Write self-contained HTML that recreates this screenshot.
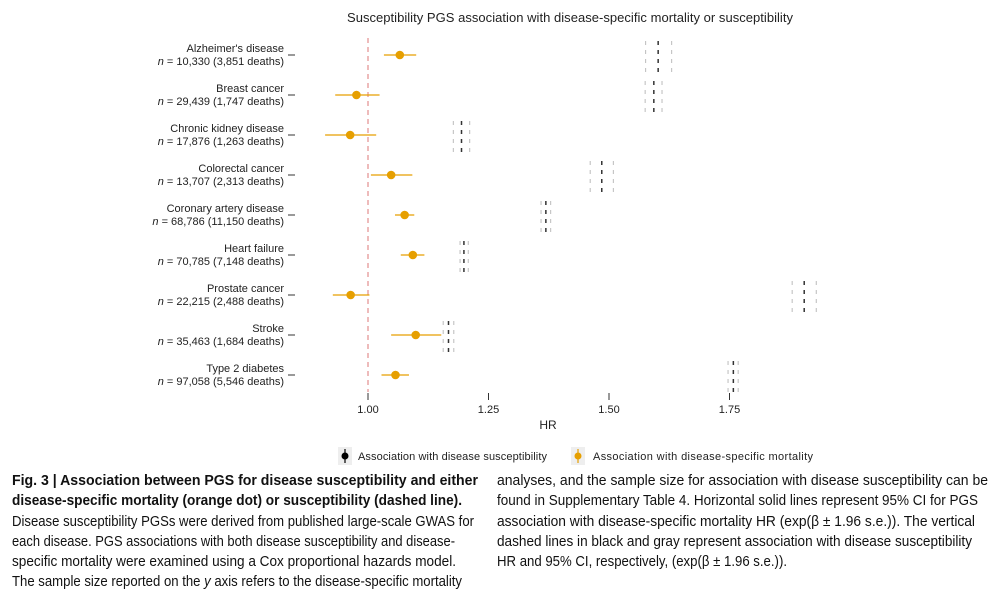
<!DOCTYPE html>
<html><head><meta charset="utf-8"><style>
body{margin:0;background:#fff;}
svg{display:block;font-family:"Liberation Sans",sans-serif;}
</style></head><body>
<svg width="1000" height="592" viewBox="0 0 1000 592">
<text x="570" y="22" text-anchor="middle" font-size="13" fill="#222" textLength="446">Susceptibility PGS association with disease-specific mortality or susceptibility</text>
<g id="plot"></g>
<text x="548" y="429" text-anchor="middle" font-size="12" fill="#222">HR</text>
<g>
<g>
<rect x="338" y="447" width="14" height="18" fill="#eee"/>
<line x1="345" y1="449" x2="345" y2="463" stroke="#000" stroke-width="1.2"/>
<circle cx="345" cy="456" r="3.5" fill="#000"/>
<text x="358" y="460" font-size="11" fill="#222" textLength="189">Association with disease susceptibility</text>
</g>
<g>
<rect x="571" y="447" width="14" height="18" fill="#eee"/>
<line x1="578" y1="449" x2="578" y2="463" stroke="#E69F00" stroke-width="1.2"/>
<circle cx="578" cy="456" r="3.5" fill="#E69F00"/>
<text x="593" y="460" font-size="11" fill="#222" textLength="220">Association with disease-specific mortality</text>
</g>
</g>
<g font-size="14.5" fill="#111">
<text x="12" y="485" font-weight="bold" textLength="466" lengthAdjust="spacingAndGlyphs">Fig. 3 | Association between PGS for disease susceptibility and either</text>
<text x="12" y="505" font-weight="bold" textLength="450" lengthAdjust="spacingAndGlyphs">disease-specific mortality (orange dot) or susceptibility (dashed line).</text>
<text x="12" y="526" textLength="462" lengthAdjust="spacingAndGlyphs">Disease susceptibility PGSs were derived from published large-scale GWAS for</text>
<text x="12" y="546" textLength="443" lengthAdjust="spacingAndGlyphs">each disease. PGS associations with both disease susceptibility and disease-</text>
<text x="12" y="566" textLength="444" lengthAdjust="spacingAndGlyphs">specific mortality were examined using a Cox proportional hazards model.</text>
<text x="12" y="586" textLength="450" lengthAdjust="spacingAndGlyphs">The sample size reported on the <tspan font-style="italic">y</tspan> axis refers to the disease-specific mortality</text>
<text x="497" y="485" textLength="491" lengthAdjust="spacingAndGlyphs">analyses, and the sample size for association with disease susceptibility can be</text>
<text x="497" y="505" textLength="481" lengthAdjust="spacingAndGlyphs">found in Supplementary Table 4. Horizontal solid lines represent 95% CI for PGS</text>
<text x="497" y="526" textLength="478" lengthAdjust="spacingAndGlyphs">association with disease-specific mortality HR (exp(β ± 1.96 s.e.)). The vertical</text>
<text x="497" y="546" textLength="475" lengthAdjust="spacingAndGlyphs">dashed lines in black and gray represent association with disease susceptibility</text>
<text x="497" y="566" textLength="290" lengthAdjust="spacingAndGlyphs">HR and 95% CI, respectively, (exp(β ± 1.96 s.e.)).</text>
</g>
</svg>
<script>
const diseases=["Alzheimer's disease","Breast cancer","Chronic kidney disease","Colorectal cancer","Coronary artery disease","Heart failure","Prostate cancer","Stroke","Type 2 diabetes"];
const sampleLabels=["10,330 (3,851 deaths)","29,439 (1,747 deaths)","17,876 (1,263 deaths)","13,707 (2,313 deaths)","68,786 (11,150 deaths)","70,785 (7,148 deaths)","22,215 (2,488 deaths)","35,463 (1,684 deaths)","97,058 (5,546 deaths)"];
const mortHR=[1.066,0.976,0.963,1.048,1.076,1.093,0.964,1.099,1.057];
const mortLo=[1.033,0.932,0.911,1.006,1.056,1.068,0.927,1.048,1.028];
const mortHi=[1.100,1.024,1.017,1.092,1.096,1.117,1.003,1.152,1.085];
const suscHR=[1.602,1.593,1.194,1.485,1.369,1.199,1.905,1.167,1.758];
const suscLo=[1.576,1.575,1.177,1.461,1.359,1.191,1.880,1.156,1.747];
const suscHi=[1.630,1.610,1.211,1.509,1.379,1.208,1.930,1.178,1.768];
const xTicks=[1.00,1.25,1.50,1.75];
const xTickLabels=["1.00","1.25","1.50","1.75"];

const NS="http://www.w3.org/2000/svg";
const g=document.getElementById('plot');
const X=v=>368+(v-1)*482;
const Y=i=>55+i*40;
function mk(tag,attrs){const e=document.createElementNS(NS,tag);for(const k in attrs)e.setAttribute(k,attrs[k]);g.appendChild(e);return e;}

const ref=mk('line',{x1:X(1),x2:X(1),y1:38,y2:392,stroke:'#d77',"stroke-width":1,"stroke-dasharray":"5,4"});



xTicks.forEach((t,i)=>{
  const tk=mk('line',{x1:X(t),x2:X(t),y1:393,y2:400,stroke:'#333',"stroke-width":1});
  
  
  const tl=mk('text',{x:X(t),y:413,"text-anchor":"middle","font-size":11,fill:'#222'});
  tl.textContent=xTickLabels[i];
  
  
});

diseases.forEach((d,i)=>{
  const y=Y(i);
  const l1=mk('text',{x:284,y:y-3,"text-anchor":"end","font-size":11,fill:'#222'});
  l1.textContent=d;
  
  
  const l2=mk('text',{x:284,y:y+10,"text-anchor":"end","font-size":11,fill:'#222'});
  l2.innerHTML='<tspan font-style="italic">n</tspan> = '+sampleLabels[i];
  
  
  const yt=mk('line',{x1:288,x2:295,y1:y,y2:y,stroke:'#333',"stroke-width":1});
  
  
  [[suscLo[i],'#bbb'],[suscHi[i],'#bbb'],[suscHR[i],'#333']].forEach(([v,c])=>{
    const dl=mk('line',{x1:X(v),x2:X(v),y1:y-14,y2:y+17,stroke:c,"stroke-width":c==='#333'?1.5:1,"stroke-dasharray":"4,5"});
    
    
  });
  const ci=mk('line',{x1:X(mortLo[i]),x2:X(mortHi[i]),y1:y,y2:y,stroke:'#E69F00',"stroke-width":1.2});
  
  
  const pt=mk('circle',{cx:X(mortHR[i]),cy:y,r:4.3,fill:'#E69F00'});
  
  
});
</script>
</body></html>
